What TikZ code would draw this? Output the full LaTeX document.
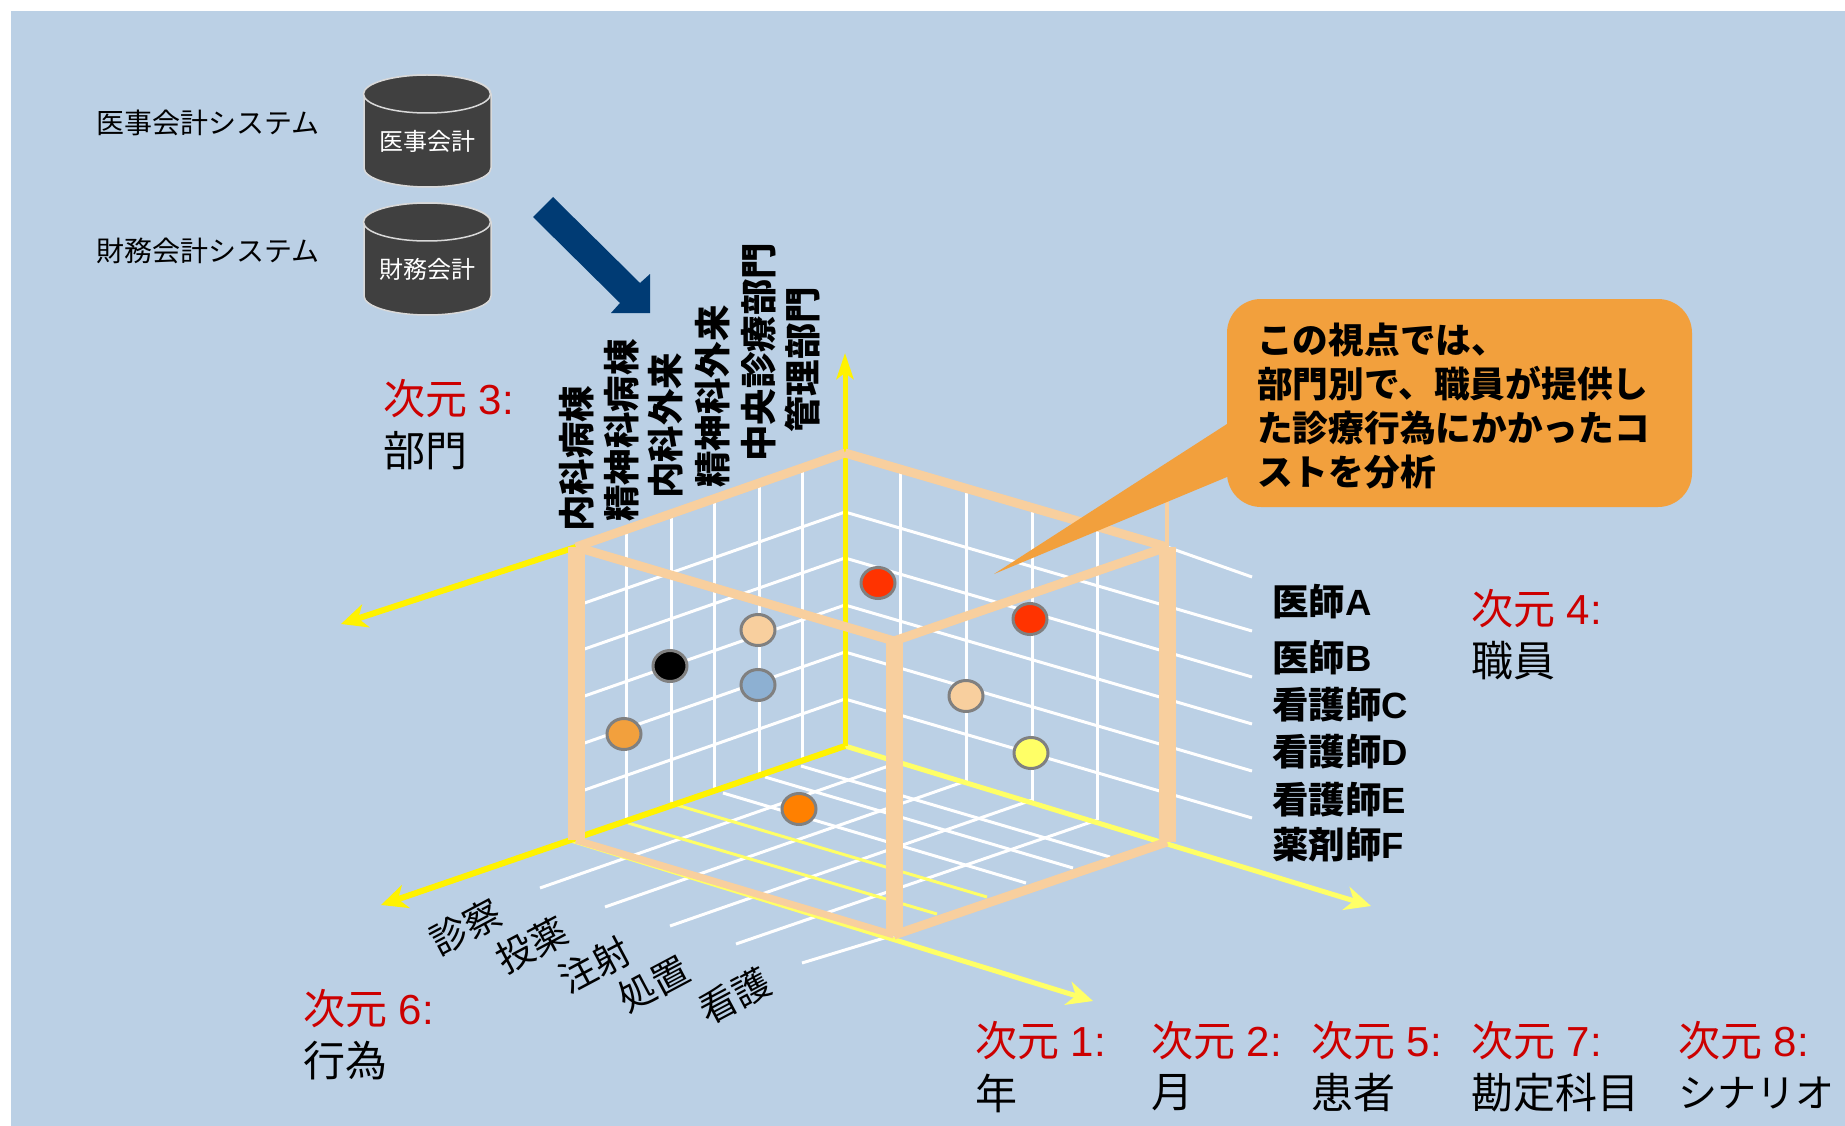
\documentclass[tikz,border=0pt]{standalone}
\usepackage{fontspec}
\setmainfont{Liberation Sans}
\newfontfamily\cjk{Noto Sans CJK JP}
\newcommand{\jp}[1]{{\cjk #1}}
\usepackage{tikz}
\usetikzlibrary{shapes,arrows.meta,positioning}

\definecolor{paneblue}{HTML}{BBD0E5}
\definecolor{framepeach}{HTML}{F8CF9E}
\definecolor{noteorange}{HTML}{F2A03D}
\definecolor{flownavy}{HTML}{003B74}
\definecolor{dbgrey}{HTML}{404040}
\definecolor{dimred}{HTML}{CC0000}
\definecolor{axislight}{HTML}{FFFF66}
\definecolor{dotred}{HTML}{FF3300}
\definecolor{dotblue}{HTML}{8DB0D2}
\definecolor{dotorange}{HTML}{FF8000}

\tikzset{
    sysname/.style={anchor=west, inner sep=0, font=\fontsize{28}{30}\selectfont\cjk},
    dbcan/.style={draw=gray!30, line width=1.5pt, fill=dbgrey},
    dbname/.style={text=white, font=\fontsize{24}{26}\selectfont\cjk},
    deptname/.style={rotate=90, anchor=west, inner sep=0, font=\fontsize{36.5}{40}\selectfont\bfseries\cjk},
    staffname/.style={anchor=west, inner sep=0, font=\fontsize{36.5}{40}\selectfont\bfseries},
    actname/.style={rotate=28, inner sep=0, font=\fontsize{37}{40}\selectfont\cjk},
    dimname/.style={anchor=west, inner sep=0, text=dimred, font=\fontsize{42}{44}\selectfont},
    dimvalue/.style={anchor=west, inner sep=0, font=\fontsize{42}{44}\selectfont\cjk},
    gridline/.style={draw=white, line width=3pt},
    axisline/.style={draw=yellow, fill=yellow, line width=6pt, -{Stealth[length=26pt,width=24pt,inset=8pt]}},
    edgeline/.style={draw=framepeach, line width=9pt},
    postline/.style={draw=framepeach, line width=17pt},
    dot/.style={ellipse, draw=gray, line width=3pt, minimum width=34pt, minimum height=31pt, inner sep=0},
    notebox/.style={rectangle, rounded corners=34pt, fill=noteorange, minimum width=465pt, minimum height=208pt, inner sep=0}
}

\begin{document}
\begin{tikzpicture}[x=1pt, y=-1pt]
    \useasboundingbox (0,0) rectangle (1845,1126);
    \fill[white] (0,0) rectangle (1845,1126);
    \fill[paneblue] (11,11) rectangle (1845,1126);

    % Cube corners
    \coordinate (backtop) at (845,453);
    \coordinate (backfloor) at (845,746);
    \coordinate (lefttop) at (576,547);
    \coordinate (leftfloor) at (576,840);
    \coordinate (fronttop) at (894,641);
    \coordinate (frontfloor) at (894,935);
    \coordinate (righttop) at (1167,547);
    \coordinate (rightfloor) at (1167,842);

    % Grid
    \foreach \gx in {626,671,714,759,802}
        \draw[gridline] (\gx,{547-0.35*(\gx-576)}) -- (\gx,{840-0.35*(\gx-576)});
    \foreach \gx in {900,966,1032,1097}
        \draw[gridline] (\gx,{453+0.292*(\gx-845)}) -- (\gx,{746+0.292*(\gx-845)});
    \foreach \gy in {512,558,605,652,699} {
        \draw[gridline] (576,{\gy+94}) -- (845,\gy);
        \draw[gridline] (845,\gy) -- (1252,{\gy+119});
    }
    \draw[gridline] (righttop) -- (1252,577);
    \draw[gridline] (900,762) -- (540,888);
    \draw[gridline] (966,781) -- (605,907);
    \draw[gridline] (1032,800) -- (670,926);
    \draw[gridline] (1097,820) -- (736,944);
    \draw[gridline] (frontfloor) -- (802,963);
    \draw[gridline] (801,766) -- (1110,857);
    \draw[gridline] (765,777) -- (1073,868);
    \draw[gridline] (723,793) -- (1026,883);
    \draw[draw=axislight, line width=3pt] (670,803) -- (987,897);
    \draw[draw=axislight, line width=3pt] (628,823) -- (937,914);

    % Axes
    \coordinate (toparrow) at (845,353);
    \coordinate (leftarrow) at (341,624);
    \coordinate (floorarrow) at (381,905);
    \coordinate (rightarrow) at (1371,906);
    \coordinate (frontstart) at (571,840);
    \coordinate (frontarrow) at (1093,1001);
    \draw[axisline, line width=5pt, draw=axislight, fill=axislight] (backfloor) -- (rightarrow);
    \draw[axisline, line width=5pt, draw=axislight, fill=axislight] (frontstart) -- (frontarrow);
    \draw[axisline, line width=5pt, -{Stealth[length=26pt,width=17pt,inset=6pt]}] (backfloor) -- (toparrow);
    \draw[axisline] (lefttop) -- (leftarrow);
    \draw[axisline] (backfloor) -- (floorarrow);

    % Frame
    \draw[draw=framepeach, line width=4pt] (1167,500) -- (righttop);
    \draw[edgeline] (lefttop) -- (backtop);
    \draw[edgeline] (backtop) -- (righttop);
    \draw[edgeline] (lefttop) -- (fronttop);
    \draw[edgeline] (fronttop) -- (righttop);
    \draw[edgeline, line width=7pt] (leftfloor) -- (frontfloor);
    \draw[edgeline] (frontfloor) -- (rightfloor);
    \draw[postline] (lefttop) -- (leftfloor);
    \draw[postline] (fronttop) -- (frontfloor);
    \draw[postline] (righttop) -- (rightfloor);

    % Points
    \node[dot, fill=dotred] (pointa) at (878,583) {};
    \node[dot, fill=dotred] (pointb) at (1030,619) {};
    \node[dot, fill=framepeach] (pointc) at (966,696) {};
    \node[dot, fill=axislight] (pointd) at (1031,753) {};
    \node[dot, fill=framepeach] (pointe) at (758,630) {};
    \node[dot, fill=black] (pointf) at (670,666) {};
    \node[dot, fill=dotblue] (pointg) at (758,685) {};
    \node[dot, fill=noteorange] (pointh) at (624,734) {};
    \node[dot, fill=dotorange] (pointi) at (799,809) {};

    % Sources
    \node[sysname] (medsys) at (96,123) {医事会計システム};
    \node[sysname] (finsys) at (96,251) {財務会計システム};
    \foreach \cy in {94,222} {
        \draw[dbcan] (364,\cy) -- (364,\cy+74) arc[start angle=180, end angle=360, x radius=63.5pt, y radius=19pt] -- (491,\cy) arc[start angle=0, end angle=180, x radius=63.5pt, y radius=19pt] -- cycle;
        \draw[dbcan] (427,\cy) ellipse[x radius=63.5pt, y radius=19pt];
    }
    \node[dbname] (meddb) at (427,141) {医事会計};
    \node[dbname] (findb) at (427,269) {財務会計};
    \fill[flownavy] (553,197) -- (640,283) -- (650,274) -- (650,313) -- (611,313) -- (620,303) -- (533,217) -- cycle;

    % Departments
    \node[deptname] (dept1) at (577,532) {内科病棟};
    \node[deptname] (dept2) at (622,522) {精神科病棟};
    \node[deptname] (dept3) at (666,499) {内科外来};
    \node[deptname] (dept4) at (713,488) {精神科外来};
    \node[deptname] (dept5) at (759,462) {中央診療部門};
    \node[deptname] (dept6) at (802,433) {管理部門};

    % Staff
    \node[staffname] (staff1) at (1272,602) {\jp{医師}A};
    \node[staffname] (staff2) at (1272,658) {\jp{医師}B};
    \node[staffname] (staff3) at (1272,705) {\jp{看護師}C};
    \node[staffname] (staff4) at (1272,752) {\jp{看護師}D};
    \node[staffname] (staff5) at (1272,800) {\jp{看護師}E};
    \node[staffname] (staff6) at (1272,845) {\jp{薬剤師}F};

    % Acts
    \node[actname] (act1) at (466,927) {診察};
    \node[actname] (act2) at (532,945) {投薬};
    \node[actname] (act3) at (595,965) {注射};
    \node[actname] (act4) at (654,984) {処置};
    \node[actname] (act5) at (735,996) {看護};

    % Dimensions
    \node[dimname] (dim3) at (383,399) {\jp{次元} 3:};
    \node[dimvalue] (val3) at ([yshift=-52pt]dim3.west) {部門};
    \node[dimname] (dim6) at (303,1009) {\jp{次元} 6:};
    \node[dimvalue] (val6) at ([yshift=-52pt]dim6.west) {行為};
    \node[dimname] (dim4) at (1471,609) {\jp{次元} 4:};
    \node[dimvalue] (val4) at ([yshift=-52pt]dim4.west) {職員};
    \node[dimname] (dim1) at (975,1041) {\jp{次元} 1:};
    \node[dimvalue] (val1) at ([yshift=-52pt]dim1.west) {年};
    \node[dimname] (dim2) at (1151,1041) {\jp{次元} 2:};
    \node[dimvalue] (val2) at ([yshift=-52pt]dim2.west) {月};
    \node[dimname] (dim5) at (1311,1041) {\jp{次元} 5:};
    \node[dimvalue] (val5) at ([yshift=-52pt]dim5.west) {患者};
    \node[dimname] (dim7) at (1471,1041) {\jp{次元} 7:};
    \node[dimvalue] (val7) at ([yshift=-52pt]dim7.west) {勘定科目};
    \node[dimname] (dim8) at (1678,1041) {\jp{次元} 8:};
    \node[dimvalue, font=\fontsize{39}{44}\selectfont\cjk] (val8) at ([yshift=-52pt]dim8.west) {シナリオ};

    % Note
    \node[notebox] (note) at (1459.5,403) {};
    \coordinate (notetip) at (994,574);
    \fill[noteorange] (1227,424) -- (notetip) -- (1227,477) -- cycle;
    \node[anchor=north west, inner sep=0, align=left, font=\fontsize{35.7}{44}\selectfont\bfseries\cjk] (notetext) at (1257,323) {この視点では、\\部門別で、職員が提供し\\た診療行為にかかったコ\\ストを分析};
\end{tikzpicture}
\end{document}
